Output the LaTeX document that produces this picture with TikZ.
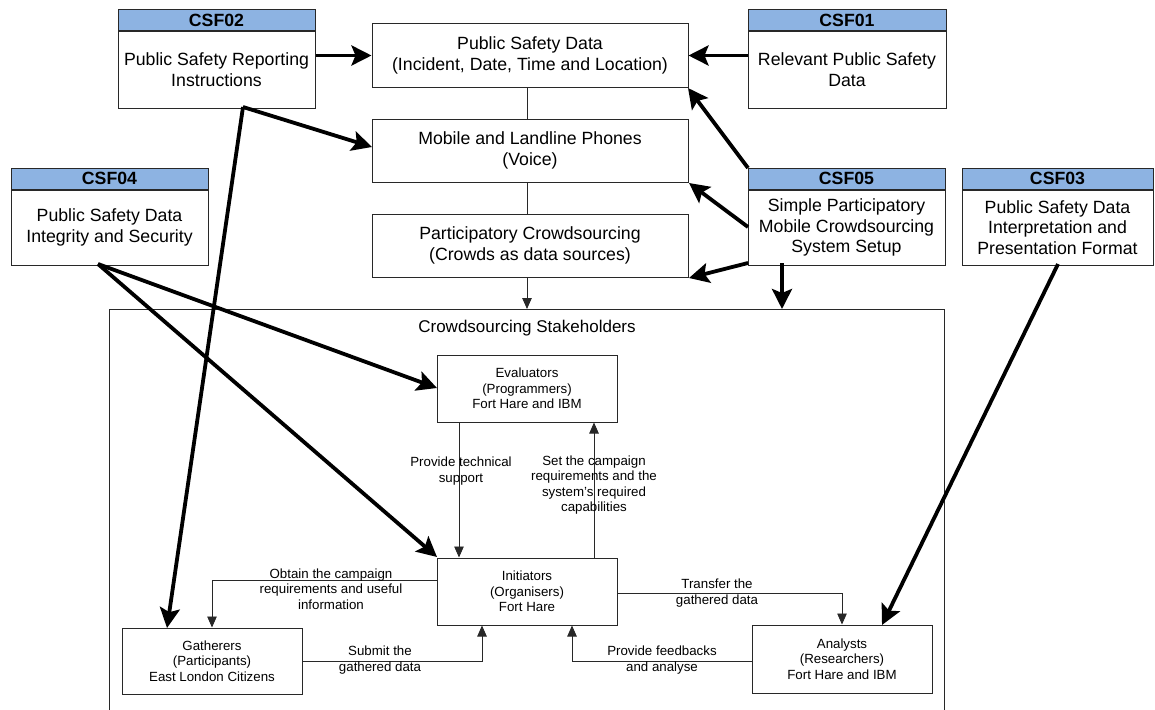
\documentclass[tikz,border=0pt]{standalone}
\usepackage{fontspec}
\setmainfont{Liberation Sans}
\usetikzlibrary{arrows.meta,calc}
\definecolor{hdrblue}{RGB}{141,179,226}
\definecolor{edge}{RGB}{40,40,40}
\begin{document}
\begin{tikzpicture}[x=1pt,y=-1pt,
  bigfont/.style={font=\fontsize{17.7}{20.8}\selectfont},
  smallfont/.style={font=\fontsize{13.3}{15.6}\selectfont},
  box/.style={draw=edge,line width=1pt,fill=white,inner sep=0pt,align=center},
  hdr/.style={box,fill=hdrblue,bigfont,font=\fontsize{17.7}{20.8}\selectfont\bfseries,minimum height=21pt},
  csfbody/.style={box,bigfont,anchor=north},
  mainbox/.style={box,bigfont,minimum width=316pt,minimum height=63pt},
  actor/.style={box,smallfont,minimum width=180pt},
  lbl/.style={smallfont,align=center,inner sep=0pt},
  thin/.style={draw=edge,line width=0.9pt},
  thinarrow/.style={thin,-{Triangle[length=11pt,width=9.5pt]}},
  bigarrow/.style={draw=black,line width=3.8pt,-{Stealth[length=20pt,width=20pt,inset=4pt]}}
]
\useasboundingbox (0,0) rectangle (1155,709);
\clip (0,0) rectangle (1155,709);

% stakeholder container (runs past the lower edge)
\node[draw=edge,line width=1pt,minimum width=835pt,minimum height=430pt,anchor=north west,inner sep=0pt] (stake) at (109,309) {};
\node[font=\fontsize{17}{20}\selectfont] (title) at (527,328) {Crowdsourcing Stakeholders};

% critical success factor boxes
\node[hdr,minimum width=197pt] (c02h) at (216.5,20.5) {CSF02};
\node[csfbody,minimum width=197pt,minimum height=76pt] (c02) at (c02h.south) {Public Safety Reporting\\Instructions};
\node[hdr,minimum width=198pt] (c01h) at (847,20.5) {CSF01};
\node[csfbody,minimum width=198pt,minimum height=76pt] (c01) at (c01h.south) {Relevant Public Safety\\Data};
\node[hdr,minimum width=197pt] (c04h) at (109.5,178.5) {CSF04};
\node[csfbody,minimum width=197pt,minimum height=75pt] (c04) at (c04h.south) {Public Safety Data\\Integrity and Security};
\node[hdr,minimum width=197pt] (c05h) at (846.5,178.5) {CSF05};
\node[csfbody,minimum width=197pt,minimum height=75pt] (c05) at (c05h.south) {Simple Participatory\\Mobile Crowdsourcing\\System Setup};
\node[hdr,minimum width=191pt] (c03h) at (1057.5,178.5) {CSF03};
\node[csfbody,minimum width=191pt,minimum height=75pt] (c03) at (c03h.south) {Public Safety Data\\Interpretation and\\Presentation Format};

% central column
\node[mainbox] (psd) at (530,55.5) {Public Safety Data\\(Incident, Date, Time and Location)};
\node[mainbox] (mob) at (530,150.5) {Mobile and Landline Phones\\(Voice)};
\node[mainbox] (par) at (530,245.5) {Participatory Crowdsourcing\\(Crowds as data sources)};

% stakeholders
\node[actor,minimum height=67pt] (eva) at (527,388.5) {Evaluators\\(Programmers)\\Fort Hare and IBM};
\node[actor,minimum height=67pt] (ini) at (527,591.5) {Initiators\\(Organisers)\\Fort Hare};
\node[actor,minimum height=66pt] (gat) at (212,661) {Gatherers\\(Participants)\\East London Citizens};
\node[actor,minimum height=68pt] (ana) at (842,659) {Analysts\\(Researchers)\\Fort Hare and IBM};

% reference points for connector routes
\coordinate (colx) at (527,0);
\coordinate (downx) at (459,0);
\coordinate (upx) at (594,0);
\coordinate (subx) at (482,0);
\coordinate (fbx) at (572,0);
\coordinate (obty) at (0,580);
\coordinate (trfy) at (0,593);
\coordinate (fby) at (0,661);
\coordinate (c02b) at (243,107);
\coordinate (mobin) at (372,147);
\coordinate (gatin) at (167,628);
\coordinate (c04b) at (98,264);
\coordinate (evain) at (437,388);
\coordinate (iniin) at (437,557);
\coordinate (c05a) at (748,168);
\coordinate (c05b) at (748,227);
\coordinate (c05c) at (748,263);
\coordinate (psdin) at (688,88);
\coordinate (mobin2) at (689,183);
\coordinate (parin) at (689,278);
\coordinate (c05d) at (782,263);
\coordinate (c03b) at (1058,264);
\coordinate (anain) at (882,625);

% thin links of the central column
\draw[thin] (psd.south -| colx) -- (mob.north -| colx);
\draw[thin] (mob.south -| colx) -- (par.north -| colx);
\draw[thinarrow] (par.south -| colx) -- (stake.north -| colx);

% stakeholder flows
\draw[thinarrow] (eva.south -| downx) -- (ini.north -| downx);
\draw[thinarrow] (ini.north -| upx) -- (eva.south -| upx);
\draw[thinarrow] (ini.west |- obty) -| (gat.north);
\draw[thinarrow] (gat.east |- fby) -| (ini.south -| subx);
\draw[thinarrow] (ini.east |- trfy) -| (ana.north);
\draw[thinarrow] (ana.west |- fby) -| (ini.south -| fbx);

\node[lbl] (l1) at (461,471) {Provide technical\\support};
\node[lbl] (l2) at (594,485) {Set the campaign\\requirements and the\\system's required\\capabilities};
\node[lbl] (l3) at (331,589) {Obtain the campaign\\requirements and useful\\information};
\node[lbl] (l4) at (380,660) {Submit the\\gathered data};
\node[lbl] (l5) at (717,593) {Transfer the\\gathered data};
\node[lbl] (l6) at (662,660) {Provide feedbacks\\and analyse};

% success factor influences
\draw[bigarrow] (psd.west -| c02.east) -- (psd.west);
\draw[bigarrow] (psd.east -| c01.west) -- (psd.east);
\draw[bigarrow] (c02b) -- (mobin);
\draw[bigarrow] (c02b) -- (gatin);
\draw[bigarrow] (c04b) -- (evain);
\draw[bigarrow] (c04b) -- (iniin);
\draw[bigarrow] (c05a) -- (psdin);
\draw[bigarrow] (c05b) -- (mobin2);
\draw[bigarrow] (c05c) -- (parin);
\draw[bigarrow] (c05d) -- (c05d |- stake.north);
\draw[bigarrow] (c03b) -- (anain);
\end{tikzpicture}
\end{document}
